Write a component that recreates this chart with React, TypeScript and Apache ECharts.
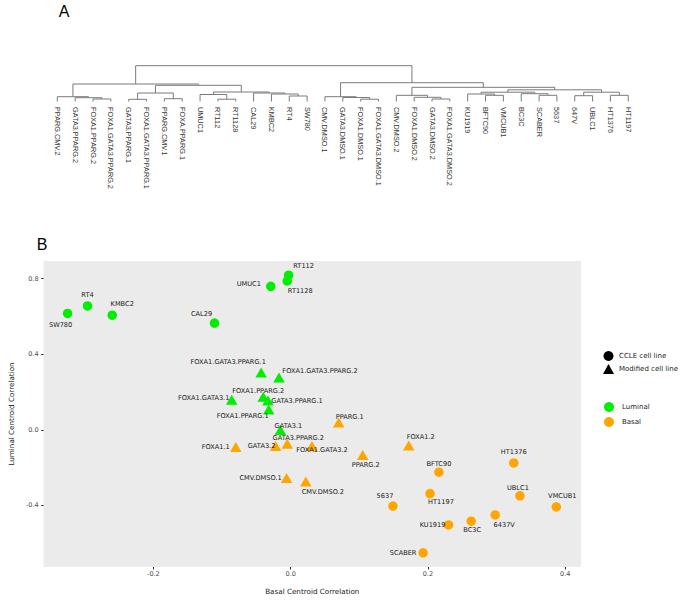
import React, { useEffect, useRef } from "react";
import * as echarts from "echarts";

// ---------- Panel A: dendrogram ----------
const leafNames = [
  "PPARG.CMV.2", "GATA3.PPARG.2", "FOXA1.PPARG.2", "FOXA1.GATA3.PPARG.2",
  "GATA3.PPARG.1", "FOXA1.GATA3.PPARG.1", "PPARG.CMV.1", "FOXA.PPARG.1",
  "UMUC1", "RT112", "RT1128", "CAL29", "KMBC2", "RT4", "SW780",
  "CMV.DMSO.1", "GATA3.DMSO.1", "FOXA1.DMSO.1", "FOXA1.GATA3.DMSO.1",
  "CMV.DMSO.2", "FOXA1.DMSO.2", "GATA3.DMSO.2", "FOXA1.GATA3.DMSO.2",
  "KU1919", "BFTC90", "VMCUB1", "BC3C", "SCABER", "5637", "647V",
  "UBLC1", "HT1376", "HT1197",
];

// hclust-style merges: [a, b, height]; negative = leaf (1-based), positive = earlier merge (1-based)
const dendroMerges: [number, number, number][] = [
  [-3, -4, 2.5], [-2, 1, 3.8], [-1, 2, 4.8],
  [-5, -6, 2.2], [-7, -8, 2.8], [4, 5, 8.5],
  [-10, -11, 2.3], [-9, 7, 7.0],
  [-14, -15, 5.5], [-13, 9, 7.5], [-12, 10, 8.5],
  [8, 11, 9.5], [6, 12, 16.2], [3, 13, 17.5],
  [-18, -19, 2.3], [-17, 15, 4.0], [-16, 16, 4.8],
  [-22, -23, 2.5], [-21, 18, 4.2], [-20, 19, 6.2],
  [-25, -26, 6.2], [-24, 21, 7.5], [-28, -29, 6.2], [-27, 23, 7.8], [22, 24, 9.3],
  [-30, -31, 5.8], [-32, -33, 6.2], [26, 27, 9.3],
  [25, 28, 11.7], [20, 29, 14.2], [17, 30, 18.8],
  [14, 31, 35.8],
];

// ---------- Panel B: scatter ----------
const lumCcleNames = ["SW780", "RT4", "KMBC2", "CAL29", "UMUC1", "RT112", "RT1128"];
const lumCcleBasal = [-0.325, -0.296, -0.26, -0.111, -0.029, -0.003, -0.005];
const lumCcleLuminal = [0.616, 0.656, 0.607, 0.565, 0.76, 0.819, 0.788];

const lumModNames = [
  "FOXA1.GATA3.PPARG.1", "FOXA1.GATA3.PPARG.2", "FOXA1.GATA3.1", "FOXA1.PPARG.2",
  "GATA3.PPARG.1", "FOXA1.PPARG.1", "GATA3.1",
];
const lumModBasal = [-0.043, -0.017, -0.086, -0.04, -0.033, -0.032, -0.015];
const lumModLuminal = [0.303, 0.277, 0.159, 0.175, 0.155, 0.108, -0.001];

const basModNames = [
  "PPARG.1", "FOXA1.1", "GATA3.2", "GATA3.PPARG.2", "FOXA1.GATA3.2",
  "PPARG.2", "FOXA1.2", "CMV.DMSO.1", "CMV.DMSO.2",
];
const basModBasal = [0.07, -0.08, -0.022, -0.005, 0.031, 0.105, 0.172, -0.006, 0.022];
const basModLuminal = [0.039, -0.091, -0.086, -0.074, -0.086, -0.134, -0.084, -0.256, -0.274];

const basCcleNames = [
  "HT1376", "BFTC90", "UBLC1", "VMCUB1", "HT1197", "5637", "KU1919", "BC3C", "6437V", "SCABER",
];
const basCcleBasal = [0.325, 0.216, 0.334, 0.387, 0.203, 0.149, 0.23, 0.263, 0.298, 0.193];
const basCcleLuminal = [-0.176, -0.225, -0.35, -0.409, -0.338, -0.404, -0.504, -0.484, -0.451, -0.652];

const xTicks = [-0.2, 0, 0.2, 0.4];
const yTicks = [-0.4, 0, 0.4, 0.8];

// label placement (pixel offsets of label centre from the point)
const labelOffsets: Record<string, [number, number]> = {
  SW780: [-7, 12], RT4: [0, -11], KMBC2: [10, -11], CAL29: [-13, -9],
  UMUC1: [-22, -2], RT112: [15, -9], RT1128: [13, 10],
  "FOXA1.GATA3.PPARG.1": [-33, -11], "FOXA1.GATA3.PPARG.2": [41, -6],
  "FOXA1.GATA3.1": [-28, -2], "FOXA1.PPARG.2": [-5, -6], "GATA3.PPARG.1": [29, 0],
  "FOXA1.PPARG.1": [-26, 7], "GATA3.1": [8, -4],
  "PPARG.1": [11, -5], "GATA3.PPARG.2": [11, -6], "FOXA1.1": [-20, 0],
  "GATA3.2": [-14, 0], "FOXA1.GATA3.2": [10, 4], "PPARG.2": [3, 10],
  "FOXA1.2": [12, -9], "CMV.DMSO.1": [-26, 0], "CMV.DMSO.2": [17, 11],
  HT1376: [0, -11], BFTC90: [0, -8], UBLC1: [-2, -8], VMCUB1: [6, -11],
  HT1197: [11, 8], "5637": [-8, -10], KU1919: [-16, 0], BC3C: [1, 9],
  "6437V": [9, 10], SCABER: [-20, 0],
};

const GREEN = "#00EE00";
const ORANGE = "#FFA500";

function buildDendroSegments(): number[][] {
  const xs: number[] = [];
  const hs: number[] = [];
  const segs: number[][] = [];
  const pos = (ref: number): [number, number] =>
    ref < 0 ? [-ref - 1, 0] : [xs[ref - 1], hs[ref - 1]];
  dendroMerges.forEach(([a, b, h]) => {
    const [xa, ha] = pos(a);
    const [xb, hb] = pos(b);
    segs.push([xa, ha, xb, hb, h]);
    xs.push((xa + xb) / 2);
    hs.push(h);
  });
  return segs;
}

function pointData(names: string[], xs: number[], ys: number[]) {
  return names.map((n, i) => ({
    name: n,
    value: [xs[i], ys[i]],
    label: { offset: labelOffsets[n] || [0, 0] },
  }));
}

const labelStyle = {
  show: true,
  position: ["50%", "50%"],
  align: "center",
  verticalAlign: "middle",
  formatter: "{b}",
  fontSize: 6.6,
  fontFamily: "DejaVu Sans",
  color: "#1a1a1a",
  textBorderWidth: 0,
};

export default function App() {
  const ref = useRef<HTMLDivElement>(null);
  useEffect(() => {
    if (!ref.current) return;
    const chart = echarts.init(ref.current, undefined, { renderer: "svg" });
    const segs = buildDendroSegments();
    const rootH = dendroMerges[dendroMerges.length - 1][2];
    const tickFont = { fontSize: 6.5, fontFamily: "DejaVu Sans", color: "#4d4d4d" };
    const option: any = {
      animation: false,
      backgroundColor: "#fff",
      grid: [
        { left: 48.4, right: 47.8, top: 65.7, height: 35.8, containLabel: false },
        {
          left: 32, right: 104, top: 261, bottom: 28, show: true,
          backgroundColor: "#EBEBEB", borderWidth: 0,
        },
      ],
      xAxis: [
        {
          gridIndex: 0, type: "category", data: leafNames, position: "bottom",
          axisLine: { show: false }, axisTick: { show: false },
          axisLabel: {
            interval: 0, rotate: -90, margin: 5.5, fontSize: 7.3,
            fontFamily: "Liberation Sans", color: "#333",
          },
        },
        { gridIndex: 0, type: "value", min: -0.5, max: leafNames.length - 0.5, show: false },
        {
          gridIndex: 1, type: "value", min: -0.36, max: 0.423, position: "bottom",
          name: "Basal Centroid Correlation", nameLocation: "middle", nameGap: 21,
          nameTextStyle: { fontSize: 7.2, fontFamily: "DejaVu Sans", color: "#222" },
          axisLine: { show: false, onZero: false }, splitLine: { show: false },
          axisTick: { show: true, length: 2.5, lineStyle: { color: "#333" }, customValues: xTicks },
          axisLabel: {
            ...tickFont, margin: 3.5, customValues: xTicks,
            formatter: (v: number) => v.toFixed(1),
          },
        },
      ],
      yAxis: [
        { gridIndex: 0, type: "value", min: 0, max: rootH, show: false },
        {
          gridIndex: 1, type: "value", min: -0.727, max: 0.894, position: "left",
          name: "Luminal Centroid Correlation", nameLocation: "middle", nameGap: 28,
          nameTextStyle: { fontSize: 7.2, fontFamily: "DejaVu Sans", color: "#222" },
          axisLine: { show: false, onZero: false }, splitLine: { show: false },
          axisTick: { show: true, length: 2.5, lineStyle: { color: "#333" }, customValues: yTicks },
          axisLabel: {
            ...tickFont, margin: 5, customValues: yTicks,
            formatter: (v: number) => v.toFixed(1),
          },
        },
      ],
      legend: [
        {
          data: [
            { name: "CCLE cell line", icon: "circle" },
            { name: "Modified cell line", icon: "triangle" },
          ],
          orient: "vertical", left: 603, top: 351, itemWidth: 11, itemHeight: 10, itemGap: 3,
          selectedMode: false, padding: 0,
          textStyle: { fontSize: 7, fontFamily: "DejaVu Sans", color: "#222" },
        },
        {
          data: [
            { name: "Luminal", icon: "circle" },
            { name: "Basal", icon: "circle" },
          ],
          orient: "vertical", left: 604, top: 402, itemWidth: 10, itemHeight: 10, itemGap: 5,
          selectedMode: false, padding: 0,
          textStyle: { fontSize: 7, fontFamily: "DejaVu Sans", color: "#222", padding: [0, 0, 0, 3] },
        },
      ],
      graphic: [
        {
          type: "text", x: 64, y: 11,
          style: { text: "A", fontSize: 16, fontFamily: "Liberation Sans", fill: "#000", align: "center", verticalAlign: "middle" },
        },
        {
          type: "text", x: 42, y: 244,
          style: { text: "B", fontSize: 16, fontFamily: "Liberation Sans", fill: "#000", align: "center", verticalAlign: "middle" },
        },
      ],
      series: [
        {
          type: "custom", name: "dendrogram", xAxisIndex: 1, yAxisIndex: 0,
          encode: { x: [0, 2], y: [1, 3, 4] },
          data: segs,
          silent: true,
          renderItem: (_p: any, api: any) => {
            const p1 = api.coord([api.value(0), api.value(1)]);
            const p2 = api.coord([api.value(0), api.value(4)]);
            const p3 = api.coord([api.value(2), api.value(4)]);
            const p4 = api.coord([api.value(2), api.value(3)]);
            return {
              type: "polyline",
              shape: { points: [p1, p2, p3, p4] },
              style: { stroke: "#7a7a7a", lineWidth: 1, fill: "none" },
            };
          },
        },
        {
          type: "scatter", name: "CCLE cell line", xAxisIndex: 2, yAxisIndex: 1,
          symbol: "circle", itemStyle: { color: "#000", opacity: 1 }, data: [],
        },
        {
          type: "scatter", name: "Modified cell line", xAxisIndex: 2, yAxisIndex: 1,
          symbol: "triangle", itemStyle: { color: "#000", opacity: 1 }, data: [],
        },
        {
          type: "scatter", name: "Luminal", xAxisIndex: 2, yAxisIndex: 1,
          symbol: "circle", symbolSize: 9.5, itemStyle: { color: GREEN, opacity: 1 },
          label: labelStyle, data: pointData(lumCcleNames, lumCcleBasal, lumCcleLuminal),
        },
        {
          type: "scatter", name: "Luminal", xAxisIndex: 2, yAxisIndex: 1,
          symbol: "triangle", symbolSize: [11.5, 10], itemStyle: { color: GREEN, opacity: 1 },
          label: labelStyle, data: pointData(lumModNames, lumModBasal, lumModLuminal),
        },
        {
          type: "scatter", name: "Basal", xAxisIndex: 2, yAxisIndex: 1,
          symbol: "triangle", symbolSize: [11.5, 10], itemStyle: { color: ORANGE, opacity: 1 },
          label: labelStyle, data: pointData(basModNames, basModBasal, basModLuminal),
        },
        {
          type: "scatter", name: "Basal", xAxisIndex: 2, yAxisIndex: 1,
          symbol: "circle", symbolSize: 9.5, itemStyle: { color: ORANGE, opacity: 1 },
          label: labelStyle, data: pointData(basCcleNames, basCcleBasal, basCcleLuminal),
        },
      ],
    };
    chart.setOption(option);
    return () => chart.dispose();
  }, []);
  return (
    <div
      ref={ref}
      style={{ position: "absolute", left: 0, top: 0, width: 685, height: 600, background: "#fff" }}
    />
  );
}
